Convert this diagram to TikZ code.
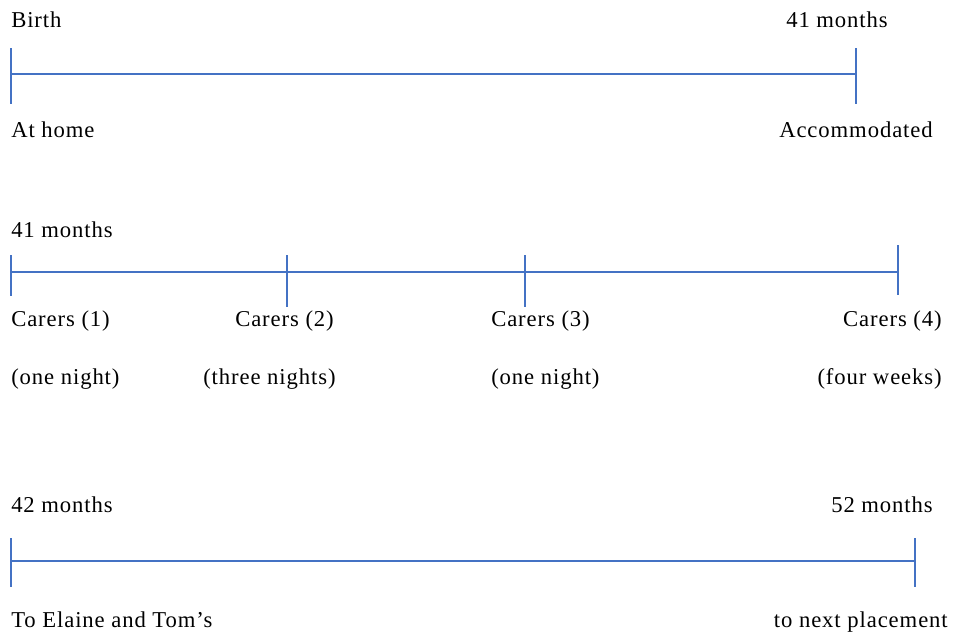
\documentclass[tikz,border=0pt]{standalone}
\usepackage{fontspec}
\setmainfont{Liberation Serif}[LetterSpace=4]
\usetikzlibrary{positioning}
\definecolor{wordblue}{RGB}{68,114,196}
\tikzset{
  tline/.style={draw=wordblue,line width=1.5pt},
  lbl/.style={inner sep=0pt,anchor=base west,font=\fontsize{17}{20}\selectfont},
  lblr/.style={lbl,anchor=base east}
}

\begin{document}
\begin{tikzpicture}[x=0.75pt,y=-0.75pt]
  \useasboundingbox (0,0) rectangle (955,633);
  % timelines: left end, right end
  \coordinate (a0) at (11,74);  \coordinate (a1) at (856,74);
  \coordinate (b0) at (11,272); \coordinate (b1) at (898,272);
  \coordinate (c0) at (11,561); \coordinate (c1) at (915,561);
  \draw[tline] (a0) -- (a1);
  \draw[tline] (b0) -- (b1);
  \draw[tline] (c0) -- (c1);
  % ticks: x / top / bottom
  \foreach \x/\t/\b [count=\i] in {11/48/104,856/48/104,
      11/255/296,287/255/307,525/255/307,898/245/295,
      11/538/587,915/538/587}{
    \coordinate (tick\i top) at (\x,\t);
    \coordinate (tick\i bot) at (\x,\b);
    \draw[tline] (tick\i top) -- (tick\i bot);
  }
  % first row
  \node[lbl]  (birth) at (11,27)   {Birth};
  \node[lblr] (m41a)  at (888,27)  {41 months};
  \node[lbl]  (home)  at (11,137)  {At home};
  \node[lblr] (accom) at (933,137) {Accommodated};
  % second row
  \node[lbl]  (m41b)  at (11,237)  {41 months};
  \node[lbl]  (car1)  at (11,326)  {Carers (1)};
  \node[lbl]  (car2)  at (235,326) {Carers (2)};
  \node[lbl]  (car3)  at (491,326) {Carers (3)};
  \node[lblr] (car4)  at (942,326) {Carers (4)};
  \node[lbl]  (dur1)  at (11,384)  {(one night)};
  \node[lbl]  (dur2)  at (203,384) {(three nights)};
  \node[lbl]  (dur3)  at (491,384) {(one night)};
  \node[lblr] (dur4)  at (942,384) {(four weeks)};
  % third row
  \node[lbl]  (m42)   at (11,512)  {42 months};
  \node[lblr] (m52)   at (933,512) {52 months};
  \node[lbl]  (elaine) at (11,627) {To Elaine and Tom’s};
  \node[lblr] (next)  at (948,627) {to next placement};
\end{tikzpicture}
\end{document}
